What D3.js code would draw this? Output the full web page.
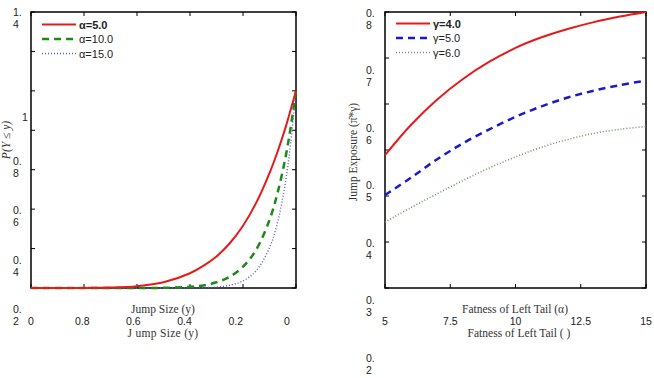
<!DOCTYPE html>
<html>
<head>
<meta charset="utf-8">
<script src="https://cdn.jsdelivr.net/npm/d3@7"></script>
<style>
  body { margin: 0; background: #fff; }
  svg { display: block; }
  .tick-label { font-family: "Liberation Sans", Arial, sans-serif; font-size: 10.5px; fill: #222; }
  .axis-title { font-family: "Liberation Serif", "DejaVu Serif", serif; font-size: 11.5px; fill: #333; }
  .legend-label { font-family: "Liberation Sans", Arial, sans-serif; font-size: 11px; fill: #222; }
</style>
</head>
<body>
<div id="Chart"></div>
<script>
// ---- data ----
// left panel: P(Y <= y) against jump size y
var jumpSize   = [-1, -0.8, -0.7, -0.6, -0.5, -0.4, -0.35, -0.3, -0.25, -0.2, -0.15, -0.1, -0.07, -0.04, -0.02, 0];
var cdfAlpha5  = [0, 0.0005, 0.002, 0.009, 0.029, 0.075, 0.112, 0.16, 0.227, 0.316, 0.433, 0.583, 0.69, 0.812, 0.905, 1.0];
var cdfAlpha10 = [0, 0, 0, 0.0001, 0.001, 0.006, 0.013, 0.029, 0.057, 0.108, 0.195, 0.345, 0.48, 0.66, 0.815, 1.0];
var cdfAlpha15 = [0, 0, 0, 0, 0, 0.0005, 0.0015, 0.005, 0.014, 0.036, 0.088, 0.205, 0.33, 0.535, 0.735, 1.0];
var leftNames  = ["\u03b1=5.0", "\u03b1=10.0", "\u03b1=15.0"];
var leftXTickLabels = ["0", "0.8", "0.6", "0.4", "0.2", "0"];
var leftYTickLabels = ["1.4", "1", "0.8", "0.6", "0.4", "0.2"];
var leftYTickLabelValues = [1.4, 1, 0.8, 0.6, 0.4, 0.2];

// right panel: jump exposure against fatness of left tail alpha
var alphaTail   = [5, 6, 7, 8, 9, 10, 11, 12, 13, 14, 15];
var expGamma4   = [0.489, 0.555, 0.61, 0.655, 0.692, 0.722, 0.745, 0.763, 0.778, 0.79, 0.8];
var expGamma5   = [0.402, 0.44, 0.48, 0.515, 0.545, 0.572, 0.595, 0.614, 0.629, 0.641, 0.651];
var expGamma6   = [0.343, 0.375, 0.405, 0.434, 0.461, 0.485, 0.506, 0.523, 0.536, 0.545, 0.551];
var rightNames  = ["\u03b3=4.0", "\u03b3=5.0", "\u03b3=6.0"];
var rightXTicks = [5, 7.5, 10, 12.5, 15];
var rightXTickLabels = ["5", "7.5", "10", "12.5", "15"];
var rightYTickLabels = ["0.8", "0.7", "0.6", "0.5", "0.4", "0.3", "0.2"];
var rightYTickLabelValues = [0.8, 0.7, 0.6, 0.5, 0.4, 0.3, 0.2];

var svg = d3.select("#Chart").append("svg")
            .attr("class", "chart")
            .attr("width", 654)
            .attr("height", 378);

// draws frame, inward ticks on all four sides
function frame(x, y, xt, yt){
    var g = svg.append("g");
    var x0 = x.range()[0], x1 = x.range()[1], y0 = y.range()[0], y1 = y.range()[1];
    var tl = 4;
    xt.forEach(function(v){
        g.append("line").attr("x1", x(v)).attr("x2", x(v)).attr("y1", y0).attr("y2", y0 - tl);
        g.append("line").attr("x1", x(v)).attr("x2", x(v)).attr("y1", y1).attr("y2", y1 + tl);
    });
    yt.forEach(function(v){
        g.append("line").attr("x1", x0).attr("x2", x0 + tl).attr("y1", y(v)).attr("y2", y(v));
        g.append("line").attr("x1", x1).attr("x2", x1 - tl).attr("y1", y(v)).attr("y2", y(v));
    });
    g.selectAll("line").attr("stroke", "#000").attr("stroke-width", 1);
    g.append("rect")
     .attr("x", x0).attr("y", y1)
     .attr("width", x1 - x0).attr("height", y0 - y1)
     .attr("fill", "none").attr("stroke", "#000").attr("stroke-width", 1.5);
}

// two-line wrapped tick labels like "0." / "8"
function yLabels(labels, values, scale, xpos){
    var t = svg.selectAll(null)
        .data(labels)
        .enter()
        .append("text")
        .attr("class", "tick-label")
        .attr("transform", (d, i) => "translate(" + (d.indexOf(".") < 0 ? xpos + 9 : xpos) + "," + scale(values[i]) + ")");
    t.each(function(d){
        var s = d3.select(this);
        if (d.indexOf(".") < 0){
            s.append("tspan").attr("x", 0).attr("y", 4).text(d);
        } else {
            var parts = d.split(".");
            s.append("tspan").attr("x", 0).attr("y", -2).text(parts[0] + ".");
            s.append("tspan").attr("x", 0).attr("y", 10).text(parts[1]);
        }
    });
}

function drawLines(x, y, xs, series, styles){
    var line = d3.line()
                 .curve(d3.curveCatmullRom.alpha(0.5))
                 .x(function(d){ return x(d[0]); })
                 .y(function(d){ return y(d[1]); });
    series.forEach(function(s, k){
        svg.append("path")
           .datum(xs.map(function(v, i){ return [v, s[i]]; }))
           .attr("fill", "none")
           .attr("stroke", styles[k].color)
           .attr("stroke-width", styles[k].width)
           .attr("stroke-dasharray", styles[k].dash)
           .attr("d", line);
    });
}

function legend(x0, y0, names, styles){
    names.forEach(function(n, i){
        var yy = y0 + i * 14.5;
        svg.append("line")
           .attr("x1", x0).attr("x2", x0 + 34)
           .attr("y1", yy).attr("y2", yy)
           .attr("stroke", styles[i].color)
           .attr("stroke-width", styles[i].width)
           .attr("stroke-dasharray", styles[i].dash);
        svg.append("text")
           .attr("class", "legend-label")
           .attr("x", x0 + 37).attr("y", yy + 4)
           .style("font-weight", i == 0 ? "bold" : "normal")
           .text(n);
    });
}

// ---------------- left panel ----------------
var xL = d3.scaleLinear().domain([-1, 0]).range([31, 296]);
var yL = d3.scaleLinear().domain([0, 1.4]).range([288, 12]);
var xLabL = d3.scaleLinear().domain([-1, 0]).range([31, 287]);
var yLabL = d3.scaleLinear().domain([1.4, 0.2]).range([18, 315]);
var stylesL = [
    {color: "#e51b1b", width: 2, dash: null},
    {color: "#1b8a1b", width: 2.5, dash: "7,5"},
    {color: "#5a5ad0", width: 1.4, dash: "1,2"}
];

frame(xL, yL, d3.range(-1, 0.01, 0.2), d3.range(0, 1.41, 0.2));
drawLines(xL, yL, jumpSize, [cdfAlpha15, cdfAlpha10, cdfAlpha5], [stylesL[2], stylesL[1], stylesL[0]]);
legend(42, 24.5, leftNames, stylesL);
yLabels(leftYTickLabels, leftYTickLabelValues, yLabL, 13);

svg.selectAll(null)
   .data(leftXTickLabels)
   .enter()
   .append("text")
   .attr("class", "tick-label")
   .attr("x", (d, i) => xLabL(-1 + i * 0.2))
   .attr("y", 325)
   .attr("text-anchor", "middle")
   .text(d => d);

svg.append("text").attr("class", "axis-title").attr("x", 163).attr("y", 313)
   .attr("text-anchor", "middle").text("Jump Size (y)");
svg.append("text").attr("class", "axis-title").attr("x", 163).attr("y", 337)
   .attr("text-anchor", "middle").style("letter-spacing", "0.3px").text("J ump Size (y)");
svg.append("text").attr("class", "axis-title")
   .attr("transform", "translate(10,140) rotate(-90)")
   .attr("text-anchor", "middle")
   .style("font-style", "italic")
   .text("P(Y \u2264 y)");

// ---------------- right panel ----------------
var xR = d3.scaleLinear().domain([5, 15]).range([385, 646]);
var yR = d3.scaleLinear().domain([0.2, 0.8]).range([288, 12]);
var yLabR = d3.scaleLinear().domain([0.8, 0.2]).range([18.5, 364]);
var stylesR = [
    {color: "#e51b1b", width: 2, dash: null},
    {color: "#1a1ac8", width: 2.5, dash: "7,5"},
    {color: "#6f966f", width: 1.6, dash: "1,2"}
];

frame(xR, yR, rightXTicks, d3.range(0.2, 0.81, 0.1));
drawLines(xR, yR, alphaTail, [expGamma6, expGamma5, expGamma4], [stylesR[2], stylesR[1], stylesR[0]]);
legend(396, 23.5, rightNames, stylesR);
yLabels(rightYTickLabels, rightYTickLabelValues, yLabR, 366);

svg.selectAll(null)
   .data(rightXTicks)
   .enter()
   .append("text")
   .attr("class", "tick-label")
   .attr("x", d => xR(d))
   .attr("y", 325)
   .attr("text-anchor", "middle")
   .text((d, i) => rightXTickLabels[i]);

svg.append("text").attr("class", "axis-title").attr("x", 515).attr("y", 313)
   .attr("text-anchor", "middle").text("Fatness of Left Tail (\u03b1)");
svg.append("text").attr("class", "axis-title").attr("x", 519).attr("y", 337)
   .attr("text-anchor", "middle").text("Fatness of Left Tail (   )");
svg.append("text").attr("class", "axis-title")
   .attr("transform", "translate(357,152) rotate(-90)")
   .attr("text-anchor", "middle")
   .text("Jump Exposure (\u03c0\u0304*\u03b3)");
</script>
</body>
</html>
